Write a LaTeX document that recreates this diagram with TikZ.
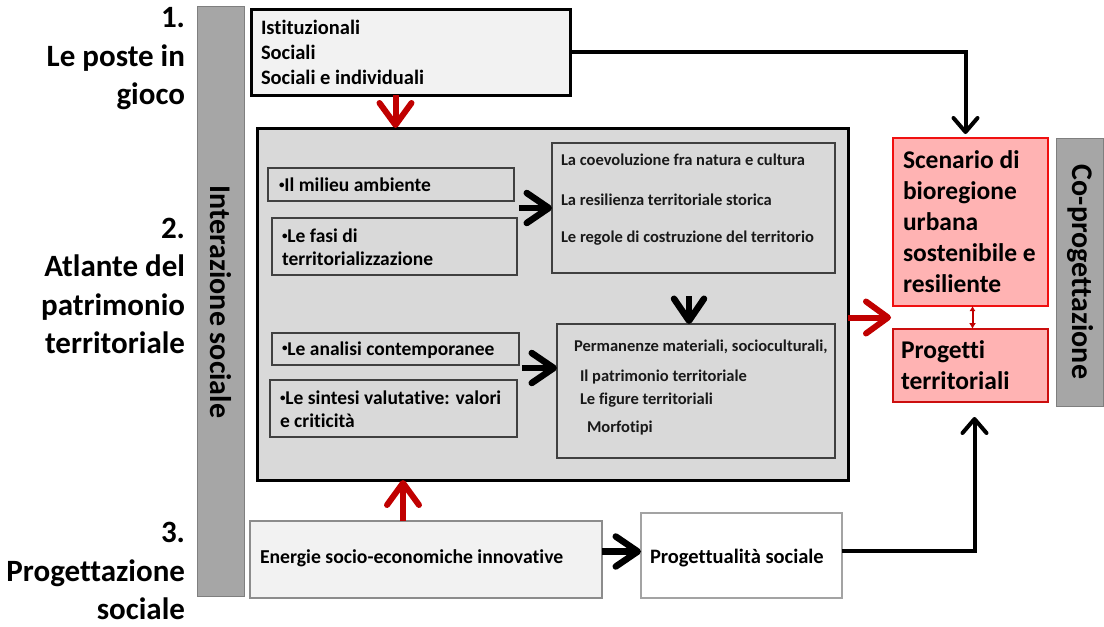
\documentclass[tikz,border=0pt]{standalone}
\usepackage{fontspec}
\setmainfont{Carlito}[Ligatures={NoCommon}]
\usetikzlibrary{arrows.meta,calc}
\definecolor{bargray}{HTML}{A6A6A6}
\definecolor{bargrayd}{HTML}{7F7F7F}
\definecolor{lightbox}{HTML}{F2F2F2}
\definecolor{midbox}{HTML}{D9D9D9}
\definecolor{innerline}{HTML}{404040}
\definecolor{pinkfill}{HTML}{FFB3B3}
\definecolor{pinkline}{HTML}{F01010}
\definecolor{arrowred}{HTML}{C00000}
\definecolor{softline}{HTML}{8C8C8C}
\newcommand{\smbul}{\raisebox{0.18em}{\fontsize{11}{11}\selectfont•}}
\begin{document}
\begin{tikzpicture}[x=1pt,y=-1pt,
  every node/.style={inner sep=0pt,outer sep=0pt},
  box/.style={anchor=north west,minimum width=#1},
  barbox/.style={box=47pt,draw=bargrayd,line width=1pt,fill=bargray},
  labtxt/.style={font=\bfseries\fontsize{31}{38.5}\selectfont,align=right,anchor=east},
  bartxt/.style={font=\bfseries\fontsize{30}{30}\selectfont,rotate=-90},
  toptxt/.style={font=\bfseries\fontsize{20.5}{25}\selectfont,align=left,anchor=west},
  intxt/.style={font=\bfseries\fontsize{19.5}{22.5}\selectfont,align=left,anchor=west},
  smtxt/.style={font=\bfseries\fontsize{16.5}{18}\selectfont,anchor=west,text=black!90},
  pinktxt/.style={font=\bfseries\fontsize{25.5}{31}\selectfont,align=left,anchor=west},
  outerbox/.style={draw=black,line width=3pt},
  innerbox/.style={draw=innerline,line width=1.5pt,fill=midbox},
  pinkbox/.style={draw=pinkline,line width=2pt,fill=pinkfill},
  thickarrow/.style={line width=6.5pt,-{Straight Barb[length=22pt,width=30pt,round]}},
  linkarrow/.style={line width=4pt,-{Straight Barb[length=14pt,width=24pt,round]}},
  redarrow/.style={draw=arrowred,line width=6pt,-{Straight Barb[length=22pt,width=32pt,round]}}
]
\useasboundingbox (0,0) rectangle (1104,627);

% side bars
\node[barbox,minimum height=590pt] (bar) at (197,6) {};
\node[bartxt] (bart) at (221,302) {Interazione sociale};
\node[barbox,minimum height=268pt] (cobar) at (1056,138) {};
\node[bartxt] (cobart) at (1080,272) {Co-progettazione};

% left labels
\node[labtxt] (l1) at (185,59) {1.\\Le poste in\\gioco};
\node[labtxt] (l2) at (185,286) {2.\\Atlante del\\patrimonio\\territoriale};
\node[labtxt] (l3) at (185,571) {3.\\Progettazione\\sociale};

% top box
\node[box=319pt,minimum height=86pt,outerbox,fill=lightbox] (tb) at (251,9) {};
\node[toptxt] (tbt) at (261,52) {Istituzionali\\Sociali\\Sociali e individuali};

% big box
\node[box=591pt,minimum height=352pt,outerbox,fill=midbox] (bb) at (257,128) {};

% inner left boxes
\node[box=246pt,minimum height=33pt,innerbox] (mi) at (268,168) {};
\node[intxt] (mit) at (279,185) {\smbul Il milieu ambiente};
\node[box=245pt,minimum height=57pt,innerbox] (fa) at (272,218) {};
\node[intxt] (fat) at (282,247) {\smbul Le fasi di\\territorializzazione};
\node[box=247pt,minimum height=32pt,innerbox] (an) at (272,333) {};
\node[intxt] (ant) at (282,350) {\smbul Le analisi contemporanee};
\node[box=247pt,minimum height=57pt,innerbox] (si) at (270,380) {};
\node[intxt] (sit) at (280,409) {\smbul Le sintesi valutative: valori\\e criticità};

% inner right boxes
\node[box=283pt,minimum height=130pt,innerbox] (ur) at (552,143) {};
\node[smtxt] (ur1) at (561,160) {La coevoluzione fra natura e cultura};
\node[smtxt] (ur2) at (561,200) {La resilienza territoriale storica};
\node[smtxt] (ur3) at (561,238) {Le regole di costruzione del territorio};
\node[box=278pt,minimum height=134pt,innerbox] (lr) at (557,324) {};
\node[smtxt] (lr1) at (574,347) {Permanenze materiali, socioculturali,};
\node[smtxt] (lr2) at (580,377) {Il patrimonio territoriale};
\node[smtxt] (lr3) at (580,400) {Le figure territoriali};
\node[smtxt] (lr4) at (587,428) {Morfotipi};

% pink boxes
\node[box=155pt,minimum height=168pt,pinkbox] (sc) at (893,138) {};
\node[pinktxt] (sct) at (903,222) {Scenario di\\bioregione\\urbana\\sostenibile e\\resiliente};
\node[box=155pt,minimum height=73pt,pinkbox,draw=pinkline!85!black] (pg) at (893,329) {};
\node[pinktxt] (pgt) at (901,365) {Progetti\\territoriali};
\coordinate (gap) at ($(sc.south)!0.5!(pg.north)$);

% bottom boxes
\node[box=352pt,minimum height=77pt,draw=softline,line width=2pt,fill=lightbox] (en) at (250,521) {};
\node[intxt,font=\bfseries\fontsize{19.7}{22}\selectfont] (ent) at (260,558) {Energie socio-economiche innovative};
\node[box=201pt,minimum height=85pt,draw=softline!80,line width=2pt,fill=white] (ps) at (641,513) {};
\node[intxt,font=\bfseries\fontsize{20.5}{22}\selectfont] (pst) at (650,558) {Progettualità sociale};

% arrows
\draw[redarrow] ([xshift=-15pt]tb.south) -- ([xshift=-15pt]tb.south |- bb.north);
\draw[redarrow] ([xshift=-23pt]en.north) -- ([xshift=-23pt]en.north |- bb.south);
\draw[redarrow] (bb.east |- gap) -- ([xshift=-2pt]sc.south west |- gap);
\draw[draw=arrowred,line width=2pt,{Latex[length=5pt,width=6pt]}-{Latex[length=6pt,width=7pt]}] ([xshift=2pt]sc.south) -- ([xshift=2pt]pg.north);

\draw[thickarrow] ([xshift=5pt]mi.east |- ur.west) -- (ur.west);
\draw[thickarrow] ([xshift=3pt,yshift=-3pt]an.south east) -- ([yshift=-3pt]an.south east -| lr.west);
\draw[thickarrow] ([xshift=-7pt,yshift=28pt]lr.north) -- ([xshift=-7pt]lr.north);
\draw[thickarrow] ([yshift=8pt]en.east) -- ([yshift=8pt]en.east -| ps.west);

\draw[linkarrow,line join=miter] (tb.east) -| ([xshift=-5pt,yshift=4pt]sc.north);
\draw[linkarrow,line join=miter] ([yshift=5pt]ps.east) -| ([xshift=4pt,yshift=-15pt]pg.south);
\end{tikzpicture}
\end{document}
